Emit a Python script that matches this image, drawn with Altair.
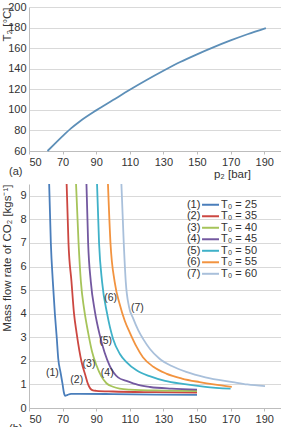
import altair as alt
import pandas as pd

FONT = "Liberation Sans"
TXT = "#333333"
GRID = "#d9d9d9"
AXC = "#bdbdbd"

# ---------------- panel (a) ----------------
p2_a = [61, 65, 70, 75, 80, 90, 100, 110, 120, 130, 140, 150, 160, 170, 180, 191]
T2_a = [60, 66.5, 74.5, 82, 88.5, 99.5, 109.5, 119.5, 129, 138, 146.5, 154, 161, 167.5, 173.5, 179.5]

# ---------------- panel (b) ----------------
series_labels = ["T₀ = 25", "T₀ = 35", "T₀ = 40", "T₀ = 45", "T₀ = 50", "T₀ = 55", "T₀ = 60"]
series_nums = ["(1)", "(2)", "(3)", "(4)", "(5)", "(6)", "(7)"]
series_colors = ["#4a7ebb", "#cc4741", "#a6c45a", "#7358a0", "#3fb1c8", "#f2933f", "#a9c0db"]

p_1 = [62.0, 63.0, 64.2, 65.4, 66.5, 67.4, 68.8, 70.0, 70.8, 71.5, 73.0, 75, 80, 100, 125, 150]
m_1 = [9.5, 7.0, 5.35, 4.0, 3.0, 2.1, 1.5, 1.0, 0.65, 0.52, 0.56, 0.6, 0.6, 0.59, 0.57, 0.56]
p_2 = [72.4, 73.5, 75.3, 76.8, 78.3, 81.3, 83.5, 85.2, 86.5, 88, 90, 100, 125, 150]
m_2 = [9.5, 7.0, 5.35, 4.0, 3.2, 1.95, 1.4, 1.0, 0.82, 0.75, 0.73, 0.7, 0.67, 0.65]
p_3 = [78.0, 79.5, 80.9, 82.8, 85.2, 87.5, 90.2, 93, 96.1, 100, 104, 110, 130, 150]
m_3 = [9.5, 7.0, 5.35, 4.2, 3.2, 2.4, 1.8, 1.35, 1.05, 0.9, 0.82, 0.78, 0.74, 0.72]
p_4 = [84.2, 85.2, 86.8, 89.2, 92.1, 95, 98, 103, 108, 115, 122, 135, 150]
m_4 = [9.5, 7.0, 5.35, 4.1, 3.1, 2.35, 1.8, 1.3, 1.15, 0.98, 0.89, 0.82, 0.78]
p_5 = [90.5, 91.7, 93.5, 96.5, 100, 104, 108, 114, 121.8, 131, 141.6, 155, 170]
m_5 = [9.5, 7.0, 5.35, 4.0, 2.94, 2.3, 1.95, 1.6, 1.35, 1.15, 1.02, 0.9, 0.82]
p_6 = [97, 98.5, 101, 104, 107, 110, 114, 117.8, 124, 131.7, 141, 151.5, 160, 170.7]
m_6 = [9.5, 7.0, 5.35, 4.4, 3.7, 3.2, 2.6, 2.15, 1.75, 1.46, 1.25, 1.1, 1.0, 0.9]
p_7 = [105, 106.4, 107.6, 109.5, 112, 115, 118, 122, 127.7, 135, 143.6, 155, 171.3, 180, 190.5]
m_7 = [9.5, 7.0, 5.35, 4.3, 3.8, 3.3, 2.92, 2.5, 2.09, 1.78, 1.53, 1.3, 1.1, 1.0, 0.93]

curves_p = [p_1, p_2, p_3, p_4, p_5, p_6, p_7]
curves_m = [m_1, m_2, m_3, m_4, m_5, m_6, m_7]

# curve annotation anchors (data units)
label_p = [63.9, 78.4, 85.7, 96.6, 95.6, 98.6, 114.5]
label_m = [1.5, 1.18, 1.88, 1.5, 2.83, 4.67, 4.25]

x_ticks = [50, 70, 90, 110, 130, 150, 170, 190]
y_ticks_a = [60, 80, 100, 120, 140, 160, 180, 200]
y_ticks_b = [0, 1, 2, 3, 4, 5, 6, 7, 8, 9]

# in-plot legend layout (in data units of panel b)
LEG_TOP = 8.62
LEG_STEP = 0.488
LEG_NUM_X = 144.0
LEG_LINE_X0 = 153.0
LEG_LINE_X1 = 163.1
LEG_TXT_X = 164.3

df_a = pd.DataFrame({"p": p2_a, "T": T2_a})
rows = []
for i, (ps, ms) in enumerate(zip(curves_p, curves_m)):
    for j, (p, m) in enumerate(zip(ps, ms)):
        rows.append({"series": series_labels[i], "p": p, "m": m, "o": j})
df_b = pd.DataFrame(rows)
df_lab = pd.DataFrame({"p": label_p, "m": label_m, "num": series_nums})
n = len(series_labels)
df_leg = pd.DataFrame({
    "series": series_labels,
    "num": series_nums,
    "m": [LEG_TOP - i * LEG_STEP for i in range(n)],
    "x0": [LEG_LINE_X0] * n,
    "x1": [LEG_LINE_X1] * n,
    "xn": [LEG_NUM_X] * n,
    "xt": [LEG_TXT_X] * n,
})

xscale = alt.Scale(domain=[50, 200], nice=False, zero=False)
yscale_a = alt.Scale(domain=[60, 200], nice=False, zero=False)
yscale_b = alt.Scale(domain=[0, 9.5], nice=False, zero=False)
cscale = alt.Scale(domain=series_labels, range=series_colors)


def X(field):
    return alt.X(field, type="quantitative", scale=xscale,
                 axis=alt.Axis(values=x_ticks, title="p₂ [bar]", grid=False, ticks=True, tickSize=3,
                               tickColor=AXC, domainColor=AXC, labelPadding=2,
                               titleX=203, titleY=17, titleAlign="center", titleBaseline="top"))


def Yb(field):
    return alt.Y(field, type="quantitative", scale=yscale_b,
                 axis=alt.Axis(values=y_ticks_b, title="Mass flow rate of CO₂ [kgs⁻¹]", grid=True,
                               gridColor=GRID, tickSize=0, domainColor=AXC, labelPadding=3,
                               titleAnchor="end", titleX=-22, titleBaseline="middle"))


W = 252
top = alt.Chart(df_a).mark_line(color="#5d8fb8", strokeWidth=1.8, interpolate="monotone").encode(
    x=X("p"),
    y=alt.Y("T:Q", scale=yscale_a,
            axis=alt.Axis(values=y_ticks_a, title="T₂ [°C]", grid=True, gridColor=GRID, tickSize=0,
                          domainColor=AXC, labelPadding=3, titleAnchor="end", titleX=-22,
                          titleBaseline="middle")),
).properties(width=W, height=144,
             title=alt.TitleParams("(a)", orient="bottom", anchor="start", fontSize=11,
                                   font=FONT, fontWeight="normal", color=TXT, offset=0, dx=8, dy=-14))

lines = alt.Chart(df_b).mark_line(strokeWidth=1.8, interpolate="monotone", clip=True).encode(
    x=X("p"), y=Yb("m"), order="o:Q",
    color=alt.Color("series:N", scale=cscale, legend=None),
)

marks_txt = alt.Chart(df_lab).mark_text(fontSize=10.5, font=FONT, color=TXT).encode(
    x=X("p"), y=Yb("m"), text="num:N")

leg_lines = alt.Chart(df_leg).mark_rule(strokeWidth=2).encode(
    x=X("x0"), x2="x1:Q", y=Yb("m"),
    color=alt.Color("series:N", scale=cscale, legend=None))
leg_num = alt.Chart(df_leg).mark_text(fontSize=11, font=FONT, color=TXT, align="left",
                                      baseline="middle").encode(
    x=X("xn"), y=Yb("m"), text="num:N")
leg_txt = alt.Chart(df_leg).mark_text(fontSize=11, font=FONT, color=TXT, align="left",
                                      baseline="middle").encode(
    x=X("xt"), y=Yb("m"), text="series:N")

bottom = alt.layer(lines, marks_txt, leg_lines, leg_num, leg_txt).properties(
    width=W, height=224,
    title=alt.TitleParams("(b)", orient="bottom", anchor="start", fontSize=11,
                          font=FONT, fontWeight="normal", color=TXT, offset=0, dx=8, dy=-14))

chart = alt.vconcat(top, bottom, spacing=4).properties(
    padding={"left": 0, "top": 1, "right": 0, "bottom": 0}
).configure_view(stroke=None).configure_axis(
    labelFont=FONT, titleFont=FONT, labelFontSize=11, titleFontSize=11.5,
    labelColor=TXT, titleColor=TXT, titleFontWeight="normal"
).configure_title(font=FONT)

chart.save("out.html", embed_options={"renderer": "svg", "actions": False})
